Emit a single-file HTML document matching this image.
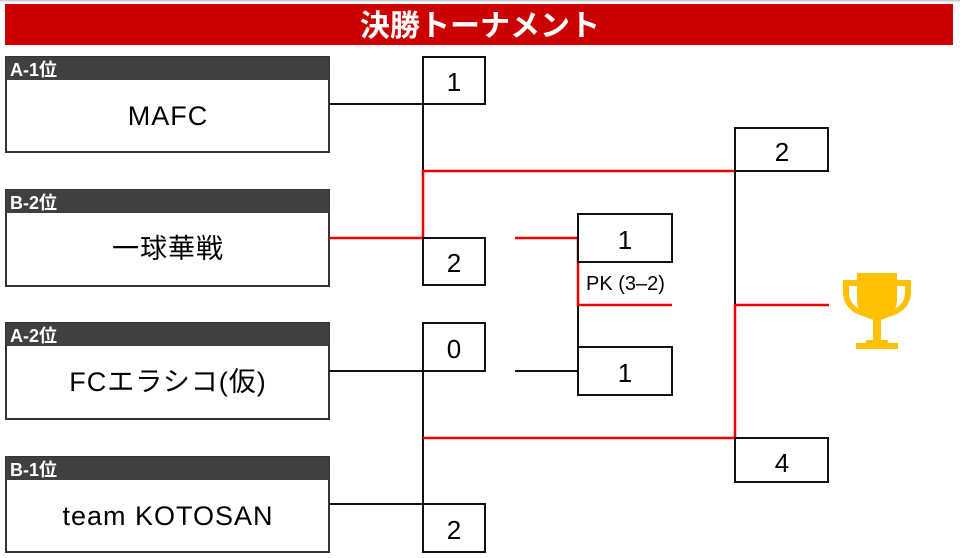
<!DOCTYPE html>
<html><head><meta charset="utf-8"><style>
html,body{margin:0;padding:0;background:#fff;width:960px;height:558px;overflow:hidden}
svg{display:block}
text{font-family:"Liberation Sans","Noto Sans CJK JP",sans-serif}
</style></head><body>
<svg width="960" height="558" viewBox="0 0 960 558" xmlns="http://www.w3.org/2000/svg">
<rect x="0" y="0" width="960" height="1.5" fill="#ccc"/>
<rect x="5" y="4" width="948" height="41" fill="#cc0000"/>
<text x="480" y="36" font-size="30" font-weight="bold" fill="#fff" text-anchor="middle" font-family="'Noto Sans CJK JP',sans-serif">決勝トーナメント</text>

<g stroke="#333" stroke-width="2" fill="#fff">
<rect x="6" y="57" width="323" height="95"/>
<rect x="6" y="190" width="323" height="96"/>
<rect x="6" y="323" width="323" height="96"/>
<rect x="6" y="457" width="323" height="95"/>
</g>
<g fill="#404040">
<rect x="6" y="57" width="323" height="23"/>
<rect x="6" y="190" width="323" height="23"/>
<rect x="6" y="323" width="323" height="23"/>
<rect x="6" y="457" width="323" height="23"/>
</g>
<g fill="#fff" font-size="18" font-weight="bold" font-family="'Noto Sans CJK JP',sans-serif">
<text x="10" y="76">A-1位</text>
<text x="10" y="209">B-2位</text>
<text x="10" y="342">A-2位</text>
<text x="10" y="476">B-1位</text>
</g>
<g fill="#000" font-size="27" text-anchor="middle" letter-spacing="1" font-family="'Noto Sans CJK JP',sans-serif">
<text x="168" y="125">MAFC</text>
<text x="168" y="258">一球華戦</text>
<text x="168" y="391">FCエラシコ(仮)</text>
<text x="168" y="525">team KOTOSAN</text>
</g>

<g stroke="#111" stroke-width="2" fill="none">
<line x1="329" y1="104" x2="423" y2="104"/>
<line x1="423" y1="104" x2="423" y2="171"/>
<line x1="329" y1="371" x2="423" y2="371"/>
<line x1="329" y1="504" x2="423" y2="504"/>
<line x1="423" y1="371" x2="423" y2="504"/>
<line x1="515" y1="371" x2="578" y2="371"/>
<line x1="578" y1="305" x2="578" y2="371"/>
<line x1="735" y1="171" x2="735" y2="305"/>
</g>
<g stroke="#ee0000" stroke-width="2.5" fill="none">
<polyline points="329,238 423,238 423,171 735,171"/>
<polyline points="515,238 578,238 578,305 672,305"/>
<polyline points="423,438 735,438 735,305 829,305"/>
</g>

<g stroke="#111" stroke-width="2" fill="#fff">
<rect x="423" y="57" width="62" height="47"/>
<rect x="423" y="238" width="62" height="47"/>
<rect x="423" y="323" width="62" height="48"/>
<rect x="423" y="504" width="62" height="48"/>
<rect x="578" y="214" width="94" height="48"/>
<rect x="578" y="347" width="94" height="48"/>
<rect x="735" y="128" width="93" height="43"/>
<rect x="735" y="438" width="93" height="44"/>
</g>
<g fill="#000" font-size="26" text-anchor="middle">
<text x="454" y="91">1</text>
<text x="454" y="272">2</text>
<text x="454" y="358">0</text>
<text x="454" y="539">2</text>
<text x="625" y="249">1</text>
<text x="625" y="382">1</text>
<text x="782" y="161">2</text>
<text x="782" y="472">4</text>
</g>
<text x="586" y="290" font-size="20" fill="#000">PK (3‒2)</text>

<g fill="#ffc000">
<path d="M857,273 H897 V300 C897,312 888,320 877,320 C866,320 857,312 857,300 Z"/>
<path d="M857,280 H843 V292 C843,306 853,314 866,317 L864,311 C855,308 849,302 849,292 V286 H857 Z"/>
<path d="M897,280 H911 V292 C911,306 901,314 888,317 L890,311 C899,308 905,302 905,292 V286 H897 Z"/>
<rect x="873" y="318" width="8" height="22"/>
<path d="M866,340 H888 V343 H898 V349 H856 V343 H866 Z"/>
</g>
</svg>
</body></html>
